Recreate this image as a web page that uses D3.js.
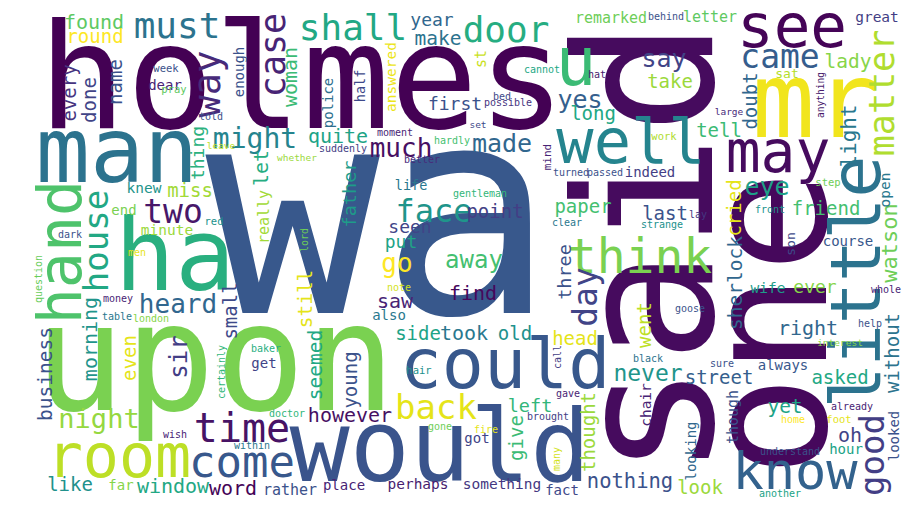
<!DOCTYPE html>
<html>
<head>
<meta charset="utf-8">
<script src="https://cdn.jsdelivr.net/npm/d3@7"></script>
<style>
  html, body { margin: 0; padding: 0; background: #fff; overflow: hidden; }
</style>
</head>
<body>
<div class="cloud"></div>
<script>
// word cloud of the sherlock holmes stories, biggest words first

var words = [
  "wa","said","one","upon","holmes","man","mr","ha","would","little",
  "could","u","well","see","hand","room","may","know","think","come",
  "time","way","must","shall","door","case","matter","house","back","good",
  "two","came","day","face","might","night","much","heard","go","say",
  "yes","made","eye","away","sir","never","watson","light","nothing","find",
  "quite","woman","however","right","let","morning","window","word","saw","oh",
  "found","round","took","make","lady","business","sherlock","seemed","still","yet",
  "every","done","name","miss","small","even","like","long","take","tell",
  "doubt","young","give","thought","left","look","street","asked","without","point",
  "paper","last","three","went","head","side","old","cried","friend","thing",
  "father","first","year","ever","seen","put","really","remarked","letter","st",
  "though","rather","open","minute","knew","answered","great","chair","something","perhaps",
  "wife","end","enough","police","half","indeed","place","far","get","got",
  "fact","looking","looked","hour","always","course","also","dear","life","sat",
  "son","hardly","week","pray","told","leave","moment","suddenly","whether","better",
  "cannot","hat","behind","bed","possible","set","work","mind","turned","passed",
  "anything","large","red","dark","men","question","money","table","london","certainly",
  "wish","within","baker","doctor","hair","gone","call","black","gave","brought",
  "fire","many","sure","already","home","foot","understand","another","step","front",
  "whole","help","interest","lay","goose","gentleman","clear","strange","lord","note"
];

// relative weight of each word (drives the font size)
var weights = [
  290,190,170,150,146,90,105,100,100,70,
  70,68,62,61,60,60,58,52,48,44,
  40,37,36,36,36,35,35,34,34,34,
  33,33,33,32,28,27,26,26,26,25,
  25,25,25,24,24,23,22,21,20.5,20,
  20,20,20,20,20,20,20,20,20,20,
  20,19,20,19.5,19.5,19.5,19.5,19.5,19.5,19.5,
  19,19,19,19,19,19,19,19,19,19,
  19,19,19,19,18.5,19,19,19,19,19,
  19,19,18.5,19,19,19,19,19,19,18,
  18.5,18,18,18,18,18,15,15,15,15,
  15,15,14.5,14.5,14.5,14.5,14.5,14.5,14.5,14.5,
  14.5,14,14,14,13.5,14,14,14,14,14,
  14,14,14,14,14,14,14,14,13.5,13,
  13,10,10.5,10.5,10,9.5,10,10,9.5,10,
  10,10,10,10,10,9.5,10.5,11,10,10,
  9.6,9.5,10.5,10,10,10,10,10,10,10,
  10,10,10,10,10.5,10,10,10,10,10,
  10,10,10,10,10,10.5,10,10,10.5,10,
  10,10,9.5,10,10,10,10,10,10,10
];

// position on the viridis ramp for each word
var tones = [
  .27,.03,.02,.8,0,.38,.98,.63,.26,.38,
  .27,.68,.45,.01,.72,.9,.03,.31,.8,.27,
  .05,.12,.38,.6,.62,.1,.88,.6,.96,.18,
  .06,.29,.2,.52,.45,.84,.04,.33,1,.2,
  .3,.33,.56,.7,.18,.52,.78,.4,.25,.02,
  .58,.68,.04,.33,.62,.52,.6,.01,.1,.2,
  .75,1,.4,.38,.82,.25,.33,.6,.96,.58,
  .15,.2,.25,.86,.22,.96,.5,.6,.85,.68,
  .33,.25,.68,.85,.66,.85,.3,.6,.38,.18,
  .7,.25,.25,.9,.96,.58,.5,.96,.7,.64,
  .55,.25,.33,.82,.2,.58,.86,.78,.75,.92,
  .25,.25,.4,.85,.52,.97,.18,.1,.16,.08,
  .55,.8,.25,.36,.22,.18,.1,.82,.2,.2,
  .22,.33,.25,.58,.27,.27,.4,.1,.4,.89,
  .22,.7,.25,.75,.25,.9,.1,.18,.85,.12,
  .6,.08,.25,.22,.15,.22,.88,.1,.25,.25,
  .07,.12,.5,.25,.96,.77,.1,.4,.82,.66,
  .1,.4,.63,.66,.5,.78,.18,.38,.1,.18,
  .96,.93,.25,.1,1,.96,.25,.58,.78,.5,
  .1,.25,.82,.16,.25,.66,.4,.5,.78,.93
];

// cloud layout: [centre along the word, baseline, 1 = turned upright]
var layout = [
  [380,313,0],[712,249,1],[826,324,1],[215,410,0],[302,128,0],[117,182,0],[815,137,0],[175,290,0],[440,481,0],[880,282,1],
  [505,388,0],[576,85,0],[631,163,0],[792,47,0],[81,252,1],[119,477,0],[778,172,0],[795,489,0],[640,273,0],[242,477,0],
  [242,442,0],[220,84,1],[177,38,0],[353,40,0],[506,42,0],[285,55,1],[894,93,1],[108,241,1],[436,419,0],[884,455,1],
  [173,223,0],[780,68,0],[597,297,1],[434,222,0],[255,148,0],[99,428,0],[401,157,0],[178,313,0],[397,272,0],[664,67,0],
  [580,108,0],[502,152,0],[767,195,0],[474,268,0],[187,357,1],[648,381,0],[897,243,1],[856,136,1],[630,488,0],[473,300,0],
  [338,143,0],[297,77,1],[350,422,0],[808,335,0],[268,168,1],[97,339,1],[173,493,0],[233,495,0],[395,308,0],[850,442,0],
  [94,29,0],[95,43,0],[464,340,0],[438,45,0],[848,68,0],[52,374,1],[742,283,1],[322,365,1],[312,299,1],[785,413,0],
  [76,93,1],[96,100,1],[122,82,1],[190,197,0],[237,311,1],[136,358,1],[70,491,0],[593,120,0],[670,88,0],[719,137,0],
  [757,101,1],[357,380,1],[523,438,1],[595,432,1],[530,412,0],[700,494,0],[719,384,0],[840,384,0],[899,353,1],[495,218,0],
  [583,213,0],[665,220,0],[571,272,1],[651,325,1],[575,345,0],[418,340,0],[515,340,0],[741,208,1],[826,215,0],[204,153,1],
  [356,194,1],[455,110,0],[432,26,0],[815,293,0],[410,233,0],[401,248,0],[269,217,1],[611,23,0],[710,22,0],[486,59,1],
  [738,417,1],[290,495,0],[890,190,1],[167,235,0],[144,193,0],[396,77,1],[877,22,0],[651,405,1],[502,489,0],[418,489,0],
  [768,293,0],[124,215,0],[244,72,1],[333,103,1],[365,86,1],[650,177,0],[344,490,0],[121,490,0],[264,368,0],[477,443,0],
  [562,495,0],[696,451,1],[899,436,1],[846,454,0],[783,370,0],[848,246,0],[389,320,0],[165,90,0],[411,190,0],[787,78,0],
  [795,244,1],[452,144,0],[166,72,0],[174,93,0],[211,120,0],[221,149,0],[395,136,0],[343,152,0],[297,161,0],[422,163,0],
  [542,73,0],[597,78,0],[666,20,0],[502,100,0],[508,106,0],[478,128,0],[664,140,0],[551,157,1],[571,176,0],[605,176,0],
  [824,95,1],[729,115,0],[214,225,0],[70,238,0],[137,256,0],[42,279,1],[118,302,0],[117,320,0],[151,322,0],[225,372,1],
  [175,438,0],[252,449,0],[266,352,0],[287,417,0],[419,374,0],[440,430,0],[561,357,1],[648,362,0],[568,397,0],[548,420,0],
  [486,433,0],[560,459,1],[722,367,0],[852,410,0],[793,423,0],[839,423,0],[790,455,0],[780,497,0],[828,186,0],[770,213,0],
  [886,293,0],[870,327,0],[840,346,0],[698,218,0],[690,312,0],[480,197,0],[567,226,0],[662,228,0],[308,240,1],[399,291,0]
];

var width = 922, height = 524;

var svg = d3.select('.cloud')
  .append('svg')
  .attr('width', width)
  .attr('height', height);

svg.append('rect')
  .attr('width', width)
  .attr('height', height)
  .attr('fill', '#fff');

var x = d3.scaleLinear().domain([0, 922]).range([0, width]);
var y = d3.scaleLinear().domain([0, 524]).range([0, height]);
var fontSize = d3.scaleLinear().domain([0, d3.max(weights)]).range([0, 290]);
var colour = d3.scaleSequential(d3.interpolateViridis).domain([0, 1]);

svg.selectAll('text.word')
  .data(words)
  .enter()
  .append('text')
  .attr('class', 'word')
  .attr('transform', function(d, i) {
    var p = layout[i];
    return 'translate(' + x(p[0]) + ',' + y(p[1]) + ')' + (p[2] ? ' rotate(-90)' : '');
  })
  .attr('text-anchor', 'middle')
  .style('font-family', '"DejaVu Sans Mono", monospace')
  .style('font-size', function(d, i) { return fontSize(weights[i]) + 'px'; })
  .attr('fill', function(d, i) { return colour(tones[i]); })
  .text(function(d) { return d; });
</script>
</body>
</html>
